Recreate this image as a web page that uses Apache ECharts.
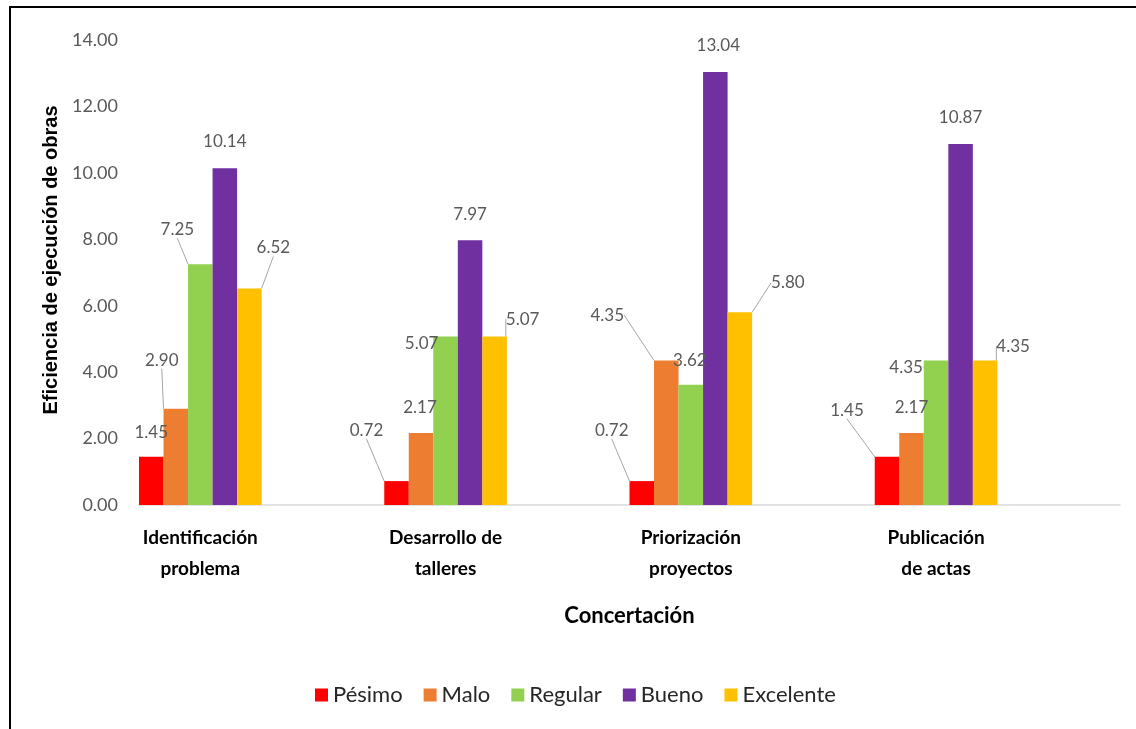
<!DOCTYPE html>
<html>
<head>
<meta charset="utf-8">
<script src="https://cdn.jsdelivr.net/npm/echarts@6/dist/echarts.min.js"></script>
<style>
html,body{margin:0;padding:0;background:#fff;}
#chart{width:1136px;height:729px;}
</style>
</head>
<body>
<div id="chart"></div>
<script>
// ---- data ----
const categories = ['Identificación\nproblema', 'Desarrollo de\ntalleres', 'Priorización\nproyectos', 'Publicación\nde actas'];
const seriesNames = ['Pésimo', 'Malo', 'Regular', 'Bueno', 'Excelente'];
const pesimo    = [1.45, 0.72, 0.72, 1.45];
const malo      = [2.90, 2.17, 4.35, 2.17];
const regular   = [7.25, 5.07, 3.62, 4.35];
const bueno     = [10.14, 7.97, 13.04, 10.87];
const excelente = [6.52, 5.07, 5.80, 4.35];
const yTicks = [0, 2, 4, 6, 8, 10, 12, 14];

// ---- styling ----
const colors = ['#FF0000', '#ED7D31', '#92D050', '#7030A0', '#FFC000'];
const font = "Lato, 'Open Sans', sans-serif";
// label offsets [dx, dy, leader] per series / category (Excel callouts)
const labelOffsets = [
  [[0, -11, 0], [-30, -37, 1], [-30, -37, 1], [-40, -33, 1]],
  [[-14, -35, 1], [-1, -12, 0], [-59, -32, 1], [0, -12, 0]],
  [[-23, -21, 1], [-24, 20, 1], [-1, -11, 0], [-30, 20, 1]],
  [[0, -13, 0], [0, -12, 0], [3, -13, 0], [0, -13, 0]],
  [[24, -27, 1], [28, -4, 1], [48, -16, 1], [28, -1, 1]]
];

const allValues = [pesimo, malo, regular, bueno, excelente];
// interleave an empty slot after each category so each group sits in the left half of its band
const axisCats = [];
categories.forEach(c => { axisCats.push(c); axisCats.push(''); });

const series = allValues.map((vals, si) => {
  const data = [];
  vals.forEach((v, ci) => {
    data.push({
      value: v,
      labelLine: { show: !!labelOffsets[si][ci][2] }
    });
    data.push(null);
  });
  return {
    name: seriesNames[si],
    type: 'bar',
    data: data,
    barGap: '0%',
    barCategoryGap: '0%',
    itemStyle: { color: colors[si] },
    label: {
      show: true,
      position: 'top',
      distance: 5,
      color: '#595959',
      fontFamily: font,
      fontSize: 17,
      formatter: p => Number(p.value).toFixed(2)
    },
    labelLine: { show: false, lineStyle: { color: '#a6a6a6', width: 1 } },
    labelLayout: function (params) {
      const o = labelOffsets[params.seriesIndex][Math.floor(params.dataIndex / 2)];
      return { dx: o[0], dy: o[1] };
    }
  };
});

const chart = echarts.init(document.getElementById('chart'), null, { renderer: 'canvas' });
chart.setOption({
  backgroundColor: '#fff',
  animation: false,
  color: colors,
  grid: { left: 139, right: 16, top: 40, bottom: 224, containLabel: false },
  legend: {
    data: seriesNames,
    left: 310,
    top: 679,
    icon: 'rect',
    itemWidth: 13,
    itemHeight: 13,
    itemGap: 21,
    textStyle: { color: '#262626', fontFamily: font, fontSize: 22 }
  },
  xAxis: {
    type: 'category',
    data: axisCats,
    axisLine: { show: true, lineStyle: { color: '#d9d9d9', width: 1.5 } },
    axisTick: { show: false },
    axisLabel: {
      interval: 0,
      margin: 17,
      color: '#000',
      fontFamily: font,
      fontWeight: 'bold',
      fontSize: 19,
      lineHeight: 31
    },
    name: 'Concertación',
    nameLocation: 'middle',
    nameGap: 100,
    nameTextStyle: { color: '#000', fontFamily: font, fontWeight: 'bold', fontSize: 22 }
  },
  yAxis: {
    type: 'value',
    min: yTicks[0],
    max: yTicks[yTicks.length - 1],
    interval: 2,
    axisLine: { show: false },
    axisTick: { show: false },
    splitLine: { show: false },
    axisLabel: {
      margin: 21,
      color: '#595959',
      fontFamily: font,
      fontSize: 18,
      formatter: v => v.toFixed(2)
    },
    name: 'Eficiencia de ejecución de obras',
    nameLocation: 'middle',
    nameGap: 77,
    nameTextStyle: {
      color: '#000',
      fontFamily: "'Liberation Sans', Arial, sans-serif",
      fontWeight: 'bold',
      fontSize: 20,
      padding: [0, 0, 0, 25]
    }
  },
  graphic: [
    { type: 'line', shape: { x1: 10, y1: 7, x2: 10, y2: 729 }, style: { stroke: '#000', lineWidth: 2 }, silent: true },
    { type: 'line', shape: { x1: 9, y1: 7, x2: 1136, y2: 7 }, style: { stroke: '#000', lineWidth: 2 }, silent: true }
  ],
  series: series
});
</script>
</body>
</html>
